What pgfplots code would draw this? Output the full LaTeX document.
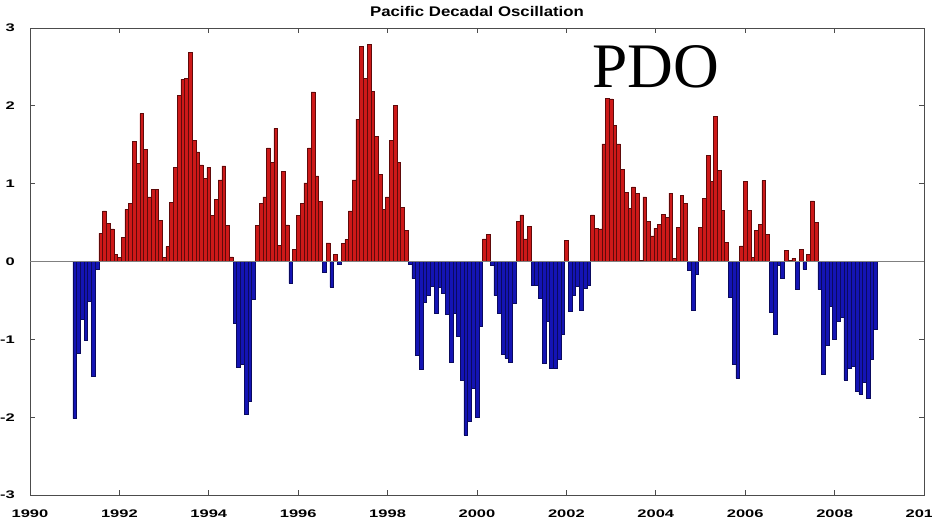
\documentclass[border=0pt]{standalone}
\usepackage{fontspec}
\setmainfont{Liberation Sans}
\newfontfamily\timesfont{Liberation Serif}
\usepackage{pgfplots}
\pgfplotsset{compat=1.18}
\usepackage{pgfplotstable}
\definecolor{pdored}{RGB}{205,25,25}
\definecolor{pdoredE}{RGB}{95,10,10}
\definecolor{pdoblue}{RGB}{20,20,180}
\definecolor{pdoblueE}{RGB}{10,10,95}
% t = month index (1 = Jan 1991), v = PDO index
\pgfplotstableread[row sep=\\]{
t v\\
1 -2.02\\ 2 -1.18\\ 3 -0.74\\ 4 -1.01\\ 5 -0.51\\ 6 -1.47\\ 7 -0.10\\ 8 0.36\\ 9 0.65\\ 10 0.49\\ 11 0.42\\ 12 0.09\\
13 0.05\\ 14 0.31\\ 15 0.67\\ 16 0.75\\ 17 1.54\\ 18 1.26\\ 19 1.90\\ 20 1.44\\ 21 0.83\\ 22 0.93\\ 23 0.93\\ 24 0.53\\
25 0.05\\ 26 0.19\\ 27 0.76\\ 28 1.21\\ 29 2.13\\ 30 2.34\\ 31 2.35\\ 32 2.69\\ 33 1.56\\ 34 1.41\\ 35 1.24\\ 36 1.07\\
37 1.21\\ 38 0.59\\ 39 0.80\\ 40 1.05\\ 41 1.23\\ 42 0.46\\ 43 0.06\\ 44 -0.79\\ 45 -1.36\\ 46 -1.32\\ 47 -1.96\\ 48 -1.79\\
49 -0.49\\ 50 0.46\\ 51 0.75\\ 52 0.83\\ 53 1.46\\ 54 1.27\\ 55 1.71\\ 56 0.21\\ 57 1.16\\ 58 0.47\\ 59 -0.28\\ 60 0.16\\
61 0.59\\ 62 0.75\\ 63 1.01\\ 64 1.46\\ 65 2.18\\ 66 1.10\\ 67 0.77\\ 68 -0.14\\ 69 0.24\\ 70 -0.33\\ 71 0.09\\ 72 -0.03\\
73 0.23\\ 74 0.28\\ 75 0.65\\ 76 1.05\\ 77 1.83\\ 78 2.76\\ 79 2.35\\ 80 2.79\\ 81 2.19\\ 82 1.61\\ 83 1.12\\ 84 0.67\\
85 0.83\\ 86 1.56\\ 87 2.01\\ 88 1.27\\ 89 0.70\\ 90 0.40\\ 91 -0.04\\ 92 -0.22\\ 93 -1.21\\ 94 -1.39\\ 95 -0.52\\ 96 -0.44\\
97 -0.32\\ 98 -0.66\\ 99 -0.33\\ 100 -0.41\\ 101 -0.68\\ 102 -1.30\\ 103 -0.66\\ 104 -0.96\\ 105 -1.53\\ 106 -2.23\\ 107 -2.05\\ 108 -1.63\\
109 -2.00\\ 110 -0.83\\ 111 0.29\\ 112 0.35\\ 113 -0.05\\ 114 -0.44\\ 115 -0.66\\ 116 -1.19\\ 117 -1.24\\ 118 -1.30\\ 119 -0.53\\ 120 0.52\\
121 0.60\\ 122 0.29\\ 123 0.45\\ 124 -0.31\\ 125 -0.30\\ 126 -0.47\\ 127 -1.31\\ 128 -0.77\\ 129 -1.37\\ 130 -1.37\\ 131 -1.26\\ 132 -0.93\\
133 0.27\\ 134 -0.64\\ 135 -0.43\\ 136 -0.32\\ 137 -0.63\\ 138 -0.35\\ 139 -0.31\\ 140 0.60\\ 141 0.43\\ 142 0.42\\ 143 1.51\\ 144 2.10\\
145 2.09\\ 146 1.75\\ 147 1.51\\ 148 1.18\\ 149 0.89\\ 150 0.68\\ 151 0.96\\ 152 0.88\\ 153 0.01\\ 154 0.83\\ 155 0.52\\ 156 0.33\\
157 0.43\\ 158 0.48\\ 159 0.61\\ 160 0.57\\ 161 0.88\\ 162 0.04\\ 163 0.44\\ 164 0.85\\ 165 0.75\\ 166 -0.11\\ 167 -0.63\\ 168 -0.17\\
169 0.44\\ 170 0.81\\ 171 1.36\\ 172 1.03\\ 173 1.86\\ 174 1.17\\ 175 0.66\\ 176 0.25\\ 177 -0.46\\ 178 -1.32\\ 179 -1.50\\ 180 0.20\\
181 1.03\\ 182 0.66\\ 183 0.05\\ 184 0.40\\ 185 0.48\\ 186 1.04\\ 187 0.35\\ 188 -0.65\\ 189 -0.94\\ 190 -0.05\\ 191 -0.22\\ 192 0.14\\
193 0.01\\ 194 0.04\\ 195 -0.36\\ 196 0.16\\ 197 -0.10\\ 198 0.09\\ 199 0.78\\ 200 0.50\\ 201 -0.36\\ 202 -1.45\\ 203 -1.08\\ 204 -0.58\\
205 -1.00\\ 206 -0.77\\ 207 -0.71\\ 208 -1.52\\ 209 -1.37\\ 210 -1.34\\ 211 -1.67\\ 212 -1.70\\ 213 -1.55\\ 214 -1.76\\ 215 -1.25\\ 216 -0.87\\
}\pdo
\begin{document}
\begin{tikzpicture}
\begin{axis}[
  scale only axis, width=447pt, height=233.5pt,
  xmin=-11, xmax=229, ymin=-3, ymax=3,
  xtick={-11,13,37,61,85,109,133,157,181,205,229},
  xticklabels={1990,1992,1994,1996,1998,2000,2002,2004,2006,2008,2010},
  ytick={-3,-2,-1,0,1,2,3},
  yticklabels={-3,-2,-1,0,1,2,3},
  tick align=inside, major tick length=2.5pt,
  axis line style={black!70},
  tick style={black!70, line width=0.4pt},
  tick label style={font=\fontsize{5.5}{6}\selectfont\bfseries, xscale=1.5},
  xticklabel style={yshift=-4pt},
  yticklabel style={xshift=-1.5pt},
]
\addplot[ybar, bar width=1, bar shift=0pt, fill=pdored, draw=pdoredE, line width=0.25pt,
  restrict y to domain=0:4] table[x=t, y=v] {\pdo};
\addplot[ybar, bar width=1, bar shift=0pt, fill=pdoblue, draw=pdoblueE, line width=0.25pt,
  restrict y to domain=-4:0] table[x=t, y=v] {\pdo};
\addplot[gray, line width=0.5pt] coordinates {(-11,0) (229,0)};
\node[anchor=base west, inner sep=0pt, font=\timesfont\fontsize{31.7}{32}\selectfont] at (axis cs:139.8,2.24) {PDO};
\end{axis}
\node[anchor=base, inner sep=0pt, xscale=1.2, font=\fontsize{7}{8}\selectfont\bfseries] at ([yshift=5.5pt]current axis.north) {Pacific Decadal Oscillation};
\pgfresetboundingbox
\path[use as bounding box] ([shift={(-15pt,-12pt)}]current axis.south west) rectangle ([shift={(4pt,14pt)}]current axis.north east);
\end{tikzpicture}
\end{document}
